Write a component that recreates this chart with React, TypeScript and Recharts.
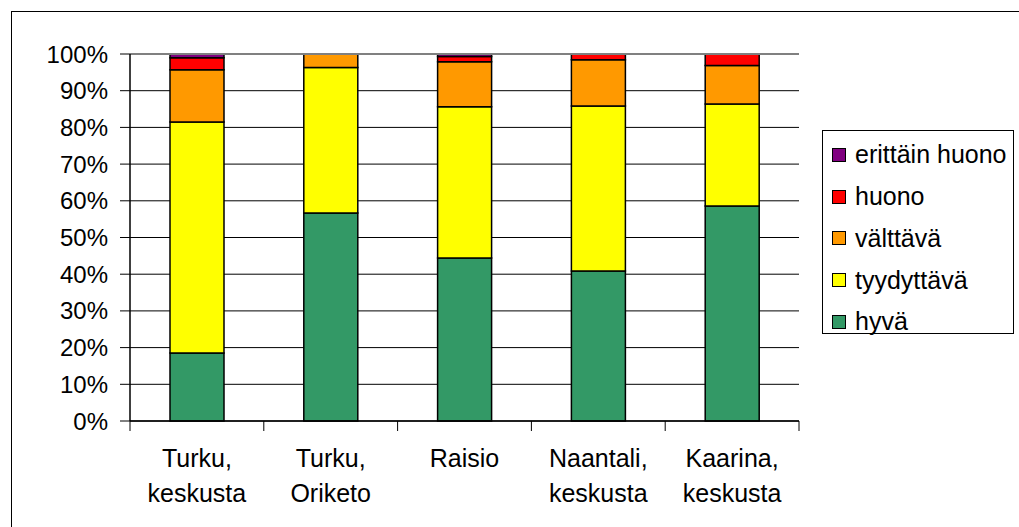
import React from 'react';
import { BarChart, Bar, XAxis, YAxis, CartesianGrid, ReferenceLine, Legend } from 'recharts';

const categories = ['Turku,|keskusta', 'Turku,|Oriketo', 'Raisio', 'Naantali,|keskusta', 'Kaarina,|keskusta'];
const hyva = [18.5, 56.7, 44.4, 40.9, 58.6];
const tyydyttava = [63.0, 39.6, 41.2, 44.9, 27.8];
const valttava = [14.2, 3.7, 12.3, 12.6, 10.5];
const huono = [3.3, 0, 1.4, 1.6, 3.1];
const erittainHuono = [1.0, 0, 0.7, 0, 0];
const yTicks = [0, 10, 20, 30, 40, 50, 60, 70, 80, 90, 100];

const series = [
  { key: 'hyva', name: 'hyvä', color: '#339966', values: hyva },
  { key: 'tyydyttava', name: 'tyydyttävä', color: '#FFFF00', values: tyydyttava },
  { key: 'valttava', name: 'välttävä', color: '#FF9900', values: valttava },
  { key: 'huono', name: 'huono', color: '#FF0000', values: huono },
  { key: 'erittainHuono', name: 'erittäin huono', color: '#800080', values: erittainHuono },
];

const data = categories.map((c, i) => {
  const row: any = { name: c };
  series.forEach((s) => { row[s.key] = s.values[i]; });
  return row;
});

const FONT = '"Liberation Sans", Arial, sans-serif';

const CategoryTick = (props: any) => {
  const { x, y, payload, index, visibleTicksCount } = props;
  const half = payload.offset || 0;
  const lines = String(payload.value).split('|');
  const isLast = index === visibleTicksCount - 1;
  return (
    <g>
      <line x1={x - half} x2={x - half} y1={y} y2={y + 10} stroke="#000" strokeWidth={1} />
      {isLast && <line x1={x + half} x2={x + half} y1={y} y2={y + 10} stroke="#000" strokeWidth={1} />}
      {lines.map((l, i) => (
        <text key={i} x={x} y={y + 46 + i * 35} textAnchor="middle" fill="#000" fontSize={25} fontFamily={FONT}>
          {l}
        </text>
      ))}
    </g>
  );
};

const LegendContent = () => {
  const items = [...series].reverse();
  return (
    <div style={{ width: 192, height: 204, boxSizing: 'border-box', border: '1px solid #000', paddingTop: 3, paddingLeft: 9, fontFamily: FONT, background: '#fff' }}>
      {items.map((s) => (
        <div key={s.key} style={{ height: 41.75, display: 'flex', alignItems: 'center' }}>
          <div style={{ width: 14, height: 14, boxSizing: 'border-box', border: '1px solid #000', background: s.color, marginRight: 9 }} />
          <span style={{ fontSize: 25, color: '#000', lineHeight: '25px' }}>{s.name}</span>
        </div>
      ))}
    </div>
  );
};

export default function App() {
  return (
    <div style={{ position: 'absolute', left: 0, top: 0, width: 1019, height: 527, overflow: 'hidden', background: '#fff' }}>
      <div style={{ position: 'absolute', left: 11, top: 11, width: 1100, height: 600, border: '1px solid #000' }} />
      <div style={{ position: 'absolute', left: 0, top: 0 }}>
        <BarChart width={1019} height={527} data={data} margin={{ top: 54, right: 220, left: 0, bottom: 0 }} barSize={54}>
          <CartesianGrid vertical={false} stroke="#000" strokeWidth={1} />
          <XAxis dataKey="name" height={106} tickLine={false} tickSize={0} tickMargin={0} axisLine={{ stroke: '#000', strokeWidth: 1.5 }} tick={<CategoryTick />} interval={0} />
          <YAxis domain={[0, 100]} ticks={yTicks} width={130} tickSize={10} tickMargin={12} axisLine={{ stroke: '#000', strokeWidth: 1.5 }} tickLine={{ stroke: '#000' }} tickFormatter={(v: number) => `${v}%`} tick={{ fill: '#000', fontSize: 24, fontFamily: FONT }} interval={0} />
          <YAxis yAxisId="r" orientation="right" domain={[0, 100]} width={0} tick={false} tickLine={false} axisLine={{ stroke: '#808080', strokeWidth: 2 }} />
          <ReferenceLine y={100} stroke="#808080" strokeWidth={2} />
          {series.map((s) => (
            <Bar key={s.key} dataKey={s.key} name={s.name} stackId="a" fill={s.color} stroke="#000" strokeWidth={1.5} isAnimationActive={false} />
          ))}
          <Legend layout="vertical" align="center" verticalAlign="middle" content={<LegendContent />} wrapperStyle={{ left: 822, top: 130, width: 192, height: 204 }} />
        </BarChart>
      </div>
    </div>
  );
}
